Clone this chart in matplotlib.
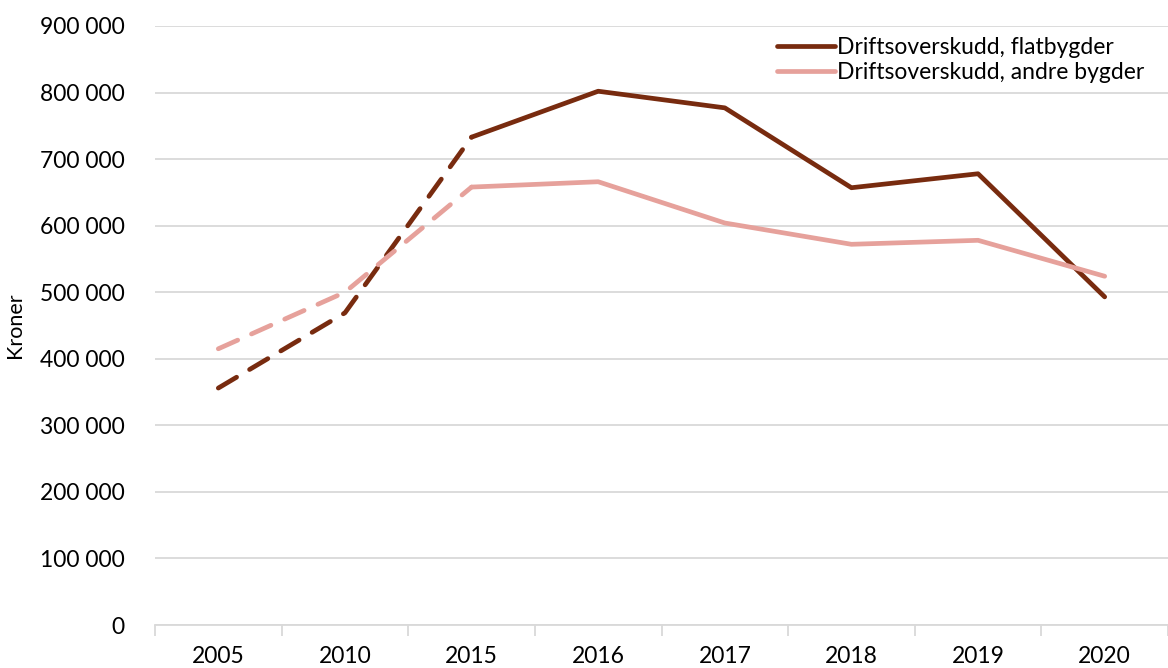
import matplotlib
matplotlib.use("Agg")
import matplotlib.pyplot as plt
from matplotlib.ticker import FuncFormatter
import numpy as np

years = ["2005", "2010", "2015", "2016", "2017", "2018", "2019", "2020"]
flat = [356000, 469000, 733000, 802000, 777000, 657000, 678000, 493000]
andre = [415000, 500000, 658000, 666000, 604000, 572000, 578000, 524000]
labels = ["Driftsoverskudd, flatbygder", "Driftsoverskudd, andre bygder"]
DARK, LIGHT = "#782B0F", "#E6A19B"
N_DASHED = 3  # 2005-2015 drawn dashed

plt.rcParams["font.family"] = ["Lato", "DejaVu Sans"]
fig = plt.figure(figsize=(11.68, 6.68), dpi=100)
ax = fig.add_axes([155/1168, 1-625/668, 1-155/1168, 599/668])

x = np.arange(len(years))
for vals, col, lab in [(flat, DARK, labels[0]), (andre, LIGHT, labels[1])]:
    ax.plot(x[:N_DASHED], vals[:N_DASHED], color=col, lw=3.4, dashes=(4.5, 3.2),
            dash_capstyle="round", solid_capstyle="round")
    ax.plot(x[N_DASHED-1:], vals[N_DASHED-1:], color=col, lw=3.4, label=lab,
            solid_capstyle="round", solid_joinstyle="round")

ax.set_xlim(-0.5, len(years)-0.5)
ax.set_ylim(0, 900000)
ax.set_yticks(np.arange(0, 900001, 100000))
ax.yaxis.set_major_formatter(FuncFormatter(lambda v, p: f"{int(v):,}".replace(",", " ")))
ax.grid(axis="y", color="#d9d9d9", lw=1.3)
ax.set_axisbelow(True)
ax.set_xticks(x)
ax.set_xticklabels(years)
ax.set_xticks(np.arange(-0.5, len(years)), minor=True)
ax.tick_params(axis="x", which="major", length=0, pad=15, labelsize=16.5)
ax.tick_params(axis="x", which="minor", length=8, color="#d9d9d9", width=1.3)
ax.tick_params(axis="y", length=0, pad=22, labelsize=16.5)
for s in ["top", "right", "left"]:
    ax.spines[s].set_visible(False)
ax.spines["bottom"].set_color("#d9d9d9")
ax.spines["bottom"].set_linewidth(1.3)
ax.set_ylabel("Kroner", fontsize=15.5)
ax.yaxis.set_label_coords(-0.128, 0.5)

ax.legend(loc="upper right", frameon=False, fontsize=16.5, handlelength=2.5,
          handletextpad=0.1, borderaxespad=0.2, labelspacing=0.2,
          bbox_to_anchor=(0.99, 1.005))

fig.savefig("out.png", dpi=100)
